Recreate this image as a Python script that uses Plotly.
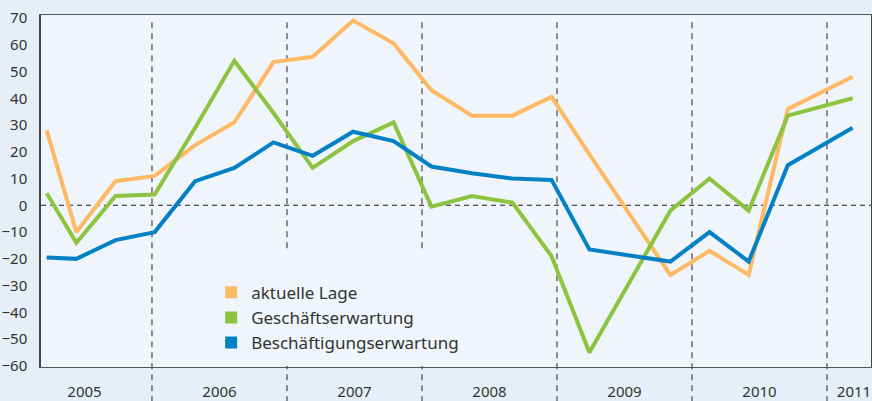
import plotly.graph_objects as go

# survey dates as decimal years
survey_x = [2005.22, 2005.44, 2005.73, 2006.02, 2006.32, 2006.61, 2006.90,
            2007.19, 2007.49, 2007.79, 2008.07, 2008.37, 2008.67, 2008.96,
            2009.24, 2009.84, 2010.13, 2010.42, 2010.71, 2011.19]

aktuelle_lage = [28, -10, 9, 11, 22.5, 31, 53.5, 55.5, 69, 60.5, 43, 33.5,
                 33.5, 40.5, 19, -26, -17, -26, 36, 48]
geschaeftserwartung = [4.5, -14, 3.5, 4, 29, 54, 34.5, 14, 24, 31, -0.5,
                       3.5, 1, -19, -55, -2, 10, -2, 33.5, 40]
beschaeftigungserwartung = [-19.5, -20, -13, -10, 9, 14, 23.5, 18.5, 27.5,
                            24, 14.5, 12, 10, 9.5, -16.5, -21, -10, -21, 15, 29]

years = ['2005', '2006', '2007', '2008', '2009', '2010', '2011']
year_label_pos = [2005.5, 2006.5, 2007.5, 2008.5, 2009.5, 2010.5, 2011.2]
year_bounds = [2006, 2007, 2008, 2009, 2010, 2011]
y_ticks = list(range(-60, 71, 10))

series = [
    ('aktuelle Lage', aktuelle_lage, '#fdb964'),
    ('Geschäftserwartung', geschaeftserwartung, '#8cc43f'),
    ('Beschäftigungserwartung', beschaeftigungserwartung, '#0481c5'),
]

FONT = 'Noto Sans'
PLOT_BG = '#eff5fb'

fig = go.Figure()

for name, values, color in series:
    fig.add_trace(go.Scatter(
        x=survey_x, y=values, mode='lines', name=name,
        line=dict(color=color, width=4), showlegend=False,
    ))

# square legend markers
for name, values, color in series:
    fig.add_trace(go.Scatter(
        x=[None], y=[None], mode='markers', name=name,
        marker=dict(symbol='square', size=12, color=color),
    ))

shapes = []
for b in year_bounds:
    shapes.append(dict(
        type='line', xref='x', yref='paper', x0=b, x1=b, y0=-0.1, y1=0.985,
        line=dict(color='#555555', width=1.3, dash='6px,5px'), layer='below',
    ))
# background patch behind the legend (hides the year lines there)
shapes.append(dict(
    type='rect', xref='x', yref='y', x0=2006.3, x1=2008.3, y0=-60, y1=-16.5,
    fillcolor=PLOT_BG, line=dict(width=0), layer='below',
))
# dashed zero line
shapes.append(dict(
    type='line', xref='paper', yref='y', x0=0, x1=1, y0=0, y1=0,
    line=dict(color='#222222', width=1.1, dash='5px,4px'), layer='below',
))

fig.update_layout(
    width=872, height=401,
    margin=dict(l=41, r=1, t=15, b=34),
    paper_bgcolor='#e6eff8',
    plot_bgcolor=PLOT_BG,
    font=dict(family=FONT, size=15, color='#333333'),
    shapes=shapes,
    showlegend=True,
    legend=dict(
        x=0.205, y=0.262, xanchor='left', yanchor='top',
        bgcolor='rgba(0,0,0,0)', font=dict(size=17, color='#333333'),
        itemwidth=30, tracegroupgap=0,
    ),
    xaxis=dict(
        range=[2005.178, 2011.326],
        tickmode='array', tickvals=year_label_pos, ticktext=years,
        showgrid=False, zeroline=False, ticks='',
        showline=True, linecolor='#555555', linewidth=1.3, mirror=True,
        ticklabelstandoff=11, automargin=False,
    ),
    yaxis=dict(
        range=[-60.4, 71.1],
        tickmode='array', tickvals=y_ticks,
        showgrid=False, zeroline=False, ticks='',
        showline=True, linecolor='#444444', linewidth=1.5, mirror=True,
        ticklabelstandoff=9, automargin=False,
    ),
)

fig.write_html("out.html", config={'displayModeBar': False},
               post_script="document.body.style.margin='0';document.body.style.overflow='hidden';")
